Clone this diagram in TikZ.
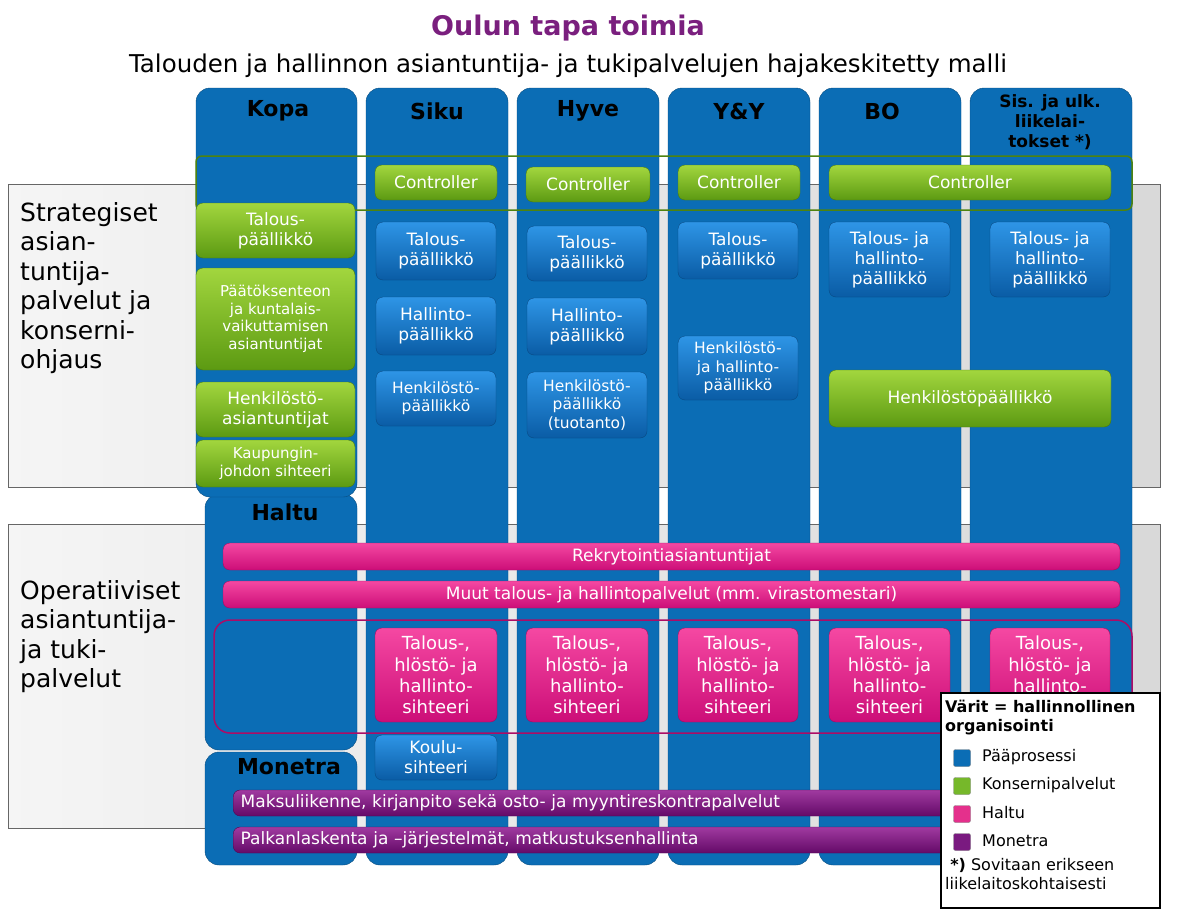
\documentclass[tikz,border=0pt]{standalone}
\usepackage{fontspec}
\setmainfont{DejaVu Sans}
\definecolor{colblue}{HTML}{0B6DB5}
\definecolor{bt}{HTML}{2E95E6}
\definecolor{bb}{HTML}{0A5CA5}
\definecolor{gt}{HTML}{A2D63E}
\definecolor{gb}{HTML}{5C9A12}
\definecolor{pt}{HTML}{F548A2}
\definecolor{pb}{HTML}{CC0E78}
\definecolor{ut}{HTML}{A03AA0}
\definecolor{ub}{HTML}{640A68}
\definecolor{ttl}{HTML}{7A1F7E}
\definecolor{lgreen}{HTML}{76B82A}
\definecolor{lpink}{HTML}{E4308C}
\definecolor{lpurple}{HTML}{7A1A80}
\newcommand{\fs}[1]{\fontsize{#1pt}{\dimexpr #1pt*118/100\relax}\selectfont}
\newcommand{\bx}[7]{\node[#1,minimum width={#4-#3},minimum height={#6-#5}] (#2) at ({(#3+#4)/2},{(#5+#6)/2}) {#7};}
\tikzset{
 base/.style={rounded corners=7pt,inner sep=0pt,align=center,text=white},
 colbox/.style={base,fill=colblue,draw=colblue!70!black,rounded corners=14pt},
 bluebox/.style={base,top color=bt,bottom color=bb,draw=bb!80!black,font=\fs{17}},
 greenbox/.style={base,top color=gt,bottom color=gb,draw=gb!80!black,font=\fs{17}},
 pinkbox/.style={base,top color=pt,bottom color=pb,draw=pb!80!black,font=\fs{18}},
 purplebox/.style={base,top color=ut,bottom color=ub,draw=ub!80!black,font=\fs{17}},
 band/.style={draw=gray!80!black,left color=gray!8,right color=gray!30,inner sep=0pt},
 hdr/.style={font=\bfseries\fs{22},inner sep=0pt},
 lbl/.style={font=\fs{25},align=left,anchor=north west,inner sep=0pt},
 sq/.style={minimum size=17pt,inner sep=0pt,rounded corners=2pt,draw=black!50,fill=#1},
 leg/.style={font=\fs{16},anchor=west,inner sep=0pt}
}
\begin{document}
\begin{tikzpicture}[x=1pt,y=-1pt]
\useasboundingbox (0,0) rectangle (1184,910);
\fill[white] (0,0) rectangle (1184,910);
% bands
\bx{band}{b1}{8}{1160}{184}{487}{}
\bx{band}{b2}{8}{1160}{524}{828}{}
% titles
\node[font=\bfseries\fs{27},text=ttl] (t1) at (568,28) {Oulun tapa toimia};
\node[font=\fs{24.5}] (t2) at (568,66) {Talouden ja hallinnon asiantuntija- ja tukipalvelujen hajakeskitetty malli};
% left labels
\node[lbl] (l1) at (20,202) {Strategiset\\asian-\\tuntija-\\palvelut ja\\konserni-\\ohjaus};
\node[lbl] (l2) at (20,580) {Operatiiviset\\asiantuntija-\\ja tuki-\\palvelut};
% columns
\bx{colbox}{cH}{205}{357}{494}{750}{}
\bx{colbox}{cM}{205}{357}{752}{865}{}
\bx{colbox}{cK}{196}{357}{88}{497}{}
\bx{colbox}{cS}{366}{508}{88}{865}{}
\bx{colbox}{cY}{517}{659}{88}{865}{}
\bx{colbox}{cYY}{668}{810}{88}{865}{}
\bx{colbox}{cB}{819}{961}{88}{865}{}
\bx{colbox}{cL}{970}{1132}{88}{865}{}
% headers
\node[hdr] (hK) at (278,111) {Kopa};
\node[hdr] (hS) at (437,111) {Siku};
\node[hdr] (hY) at (588,111) {Hyve};
\node[hdr] (hYY) at (739,111) {Y\&Y};
\node[hdr] (hB) at (882,111) {BO};
\node[hdr,font=\bfseries\fs{17},align=center] (hL) at (1050,122) {Sis. ja ulk.\\liikelai-\\tokset *)};
\node[hdr] (hH) at (285,512) {Haltu};
\node[hdr] (hM) at (289,767) {Monetra};
% controllers
\bx{greenbox}{c1}{375}{497}{165}{200}{Controller}
\bx{greenbox}{c2}{526}{650}{167}{202}{Controller}
\bx{greenbox}{c3}{678}{800}{165}{200}{Controller}
\bx{greenbox}{c4}{829}{1111}{165}{200}{Controller}
\draw[draw=gb!85!black,line width=1.5pt,rounded corners=6pt] (196,156) rectangle (1132,210);
% Kopa
\bx{greenbox}{k1}{196}{355}{203}{258}{Talous-\\päällikkö}
\bx{greenbox,font=\fs{15}}{k2}{196}{355}{268}{370}{Päätöksenteon\\ja kuntalais-\\vaikuttamisen\\asiantuntijat}
\bx{greenbox}{k3}{196}{355}{382}{437}{Henkilöstö-\\asiantuntijat}
\bx{greenbox,font=\fs{15}}{k4}{196}{355}{440}{487}{Kaupungin-\\johdon sihteeri}
% Siku
\bx{bluebox}{s1}{376}{496}{222}{280}{Talous-\\päällikkö}
\bx{bluebox}{s2}{376}{496}{297}{355}{Hallinto-\\päällikkö}
\bx{bluebox,font=\fs{15.5}}{s3}{376}{496}{371}{426}{Henkilöstö-\\päällikkö}
% Hyve
\bx{bluebox}{y1}{527}{647}{226}{281}{Talous-\\päällikkö}
\bx{bluebox}{y2}{527}{647}{298}{355}{Hallinto-\\päällikkö}
\bx{bluebox,font=\fs{15.5}}{y3}{527}{647}{372}{438}{Henkilöstö-\\päällikkö\\(tuotanto)}
% Y&Y
\bx{bluebox}{yy1}{678}{798}{222}{279}{Talous-\\päällikkö}
\bx{bluebox,font=\fs{15.5}}{yy2}{678}{798}{336}{400}{Henkilöstö-\\ja hallinto-\\päällikkö}
% BO & Sis
\bx{bluebox}{bo1}{829}{950}{222}{297}{Talous- ja\\hallinto-\\päällikkö}
\bx{greenbox}{bo2}{829}{1111}{370}{427}{Henkilöstöpäällikkö}
\bx{bluebox}{l1b}{990}{1110}{222}{297}{Talous- ja\\hallinto-\\päällikkö}
% pink bars
\bx{pinkbox,font=\fs{17}}{p1}{223}{1120}{543}{570}{Rekrytointiasiantuntijat}
\bx{pinkbox,font=\fs{17}}{p2}{223}{1120}{581}{608}{Muut talous- ja hallintopalvelut (mm. virastomestari)}
% pink boxes
\bx{pinkbox}{q1}{375}{497}{628}{722}{Talous-,\\hlöstö- ja\\hallinto-\\sihteeri}
\bx{pinkbox}{q2}{526}{648}{628}{722}{Talous-,\\hlöstö- ja\\hallinto-\\sihteeri}
\bx{pinkbox}{q3}{678}{798}{628}{722}{Talous-,\\hlöstö- ja\\hallinto-\\sihteeri}
\bx{pinkbox}{q4}{829}{950}{628}{722}{Talous-,\\hlöstö- ja\\hallinto-\\sihteeri}
\bx{pinkbox}{q5}{990}{1110}{628}{722}{Talous-,\\hlöstö- ja\\hallinto-\\sihteeri}
\draw[draw=pb!85!black,line width=1.5pt,rounded corners=16pt] (214,620) rectangle (1132,733);
\bx{bluebox}{ko}{375}{497}{735}{780}{Koulu-\\sihteeri}
% purple bars
\node[purplebox,minimum width=800,minimum height=26,anchor=west,text width=785,align=left] (m1) at (233,803) {Maksuliikenne, kirjanpito sekä osto- ja myyntireskontrapalvelut};
\node[purplebox,minimum width=800,minimum height=26,anchor=west,text width=785,align=left] (m2) at (233,840) {Palkanlaskenta ja –järjestelmät, matkustuksenhallinta};
% legend
\draw[line width=2pt,fill=white] (941,693) rectangle (1160,908);
\node[font=\bfseries\fs{16},align=left,anchor=north west,inner sep=0pt] (lt) at (945,700) {Värit = hallinnollinen\\organisointi};
\node[sq=colblue] (s_1) at (962,758) {}; \node[leg] (lg1) at (982,757) {Pääprosessi};
\node[sq=lgreen] (s_2) at (962,786) {}; \node[leg] (lg2) at (982,785) {Konsernipalvelut};
\node[sq=lpink] (s_3) at (962,814) {}; \node[leg] (lg3) at (982,813) {Haltu};
\node[sq=lpurple] (s_4) at (962,842) {}; \node[leg] (lg4) at (982,841) {Monetra};
\node[font=\fs{16},align=left,anchor=north west,inner sep=0pt] (lf) at (945,858) {\ \textbf{*)} Sovitaan erikseen\\liikelaitoskohtaisesti};
\end{tikzpicture}
\end{document}
